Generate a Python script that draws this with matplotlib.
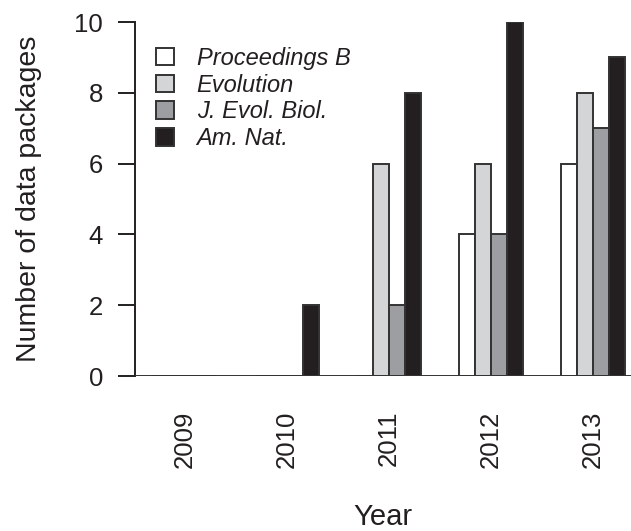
import numpy as np
import matplotlib.pyplot as plt

plt.rcParams['font.family'] = ['Liberation Sans', 'DejaVu Sans']

years = ['2009', '2010', '2011', '2012', '2013']
journals = ['Proceedings B', 'Evolution', 'J. Evol. Biol.', 'Am. Nat.']
proc_b = [0, 0, 0, 4, 6]
evolution = [0, 0, 6, 6, 8]
jeb = [0, 0, 2, 4, 7]
am_nat = [0, 2, 8, 10, 9]
colors = ['#ffffff', '#d4d5d7', '#9d9ea1', '#231f20']

series = [proc_b, evolution, jeb, am_nat]

fig = plt.figure(figsize=(6.31, 5.31), dpi=100)
ax = fig.add_axes([135 / 631, 155 / 531, 496 / 631, 354 / 531])

group_start = 1.125 + np.arange(len(years)) * 6.375
for i, (vals, col) in enumerate(zip(series, colors)):
    ax.bar(group_start + i, vals, width=1, align='edge', color=col,
           edgecolor='#333333', linewidth=1.4, label=journals[i], zorder=2)

ax.axhline(0, color='#333333', linewidth=1.4, zorder=3)

ax.set_xlim(0, 31)
ax.set_ylim(0, 10)
ax.set_xticks(group_start + 2)
ax.set_xticklabels(years, rotation=90)
ax.set_yticks(np.arange(0, 11, 2))

for side in ['top', 'right', 'bottom']:
    ax.spines[side].set_visible(False)
ax.spines['left'].set_linewidth(1.4)
ax.spines['left'].set_color('#231f20')
ax.tick_params(axis='y', length=12, width=1.4, color='#231f20', labelsize=18.5, pad=11,
               labelcolor='#231f20')
ax.tick_params(axis='x', length=0, labelsize=18.5, pad=25, labelcolor='#231f20')

ax.set_ylabel('Number of data packages', fontsize=20.5, color='#231f20')
ax.yaxis.set_label_coords(-0.187, 0.5)
ax.set_xlabel('Year', fontsize=21, color='#231f20')
ax.xaxis.set_label_coords(0.5, -0.36)

leg = ax.legend(loc='upper left', bbox_to_anchor=(0.0, 0.99), frameon=False,
                prop={'size': 17, 'style': 'italic'}, handlelength=0.76,
                handleheight=0.76, labelspacing=0.16, handletextpad=0.95)
for t in leg.get_texts():
    t.set_color('#231f20')

fig.savefig('out.png', dpi=100)
